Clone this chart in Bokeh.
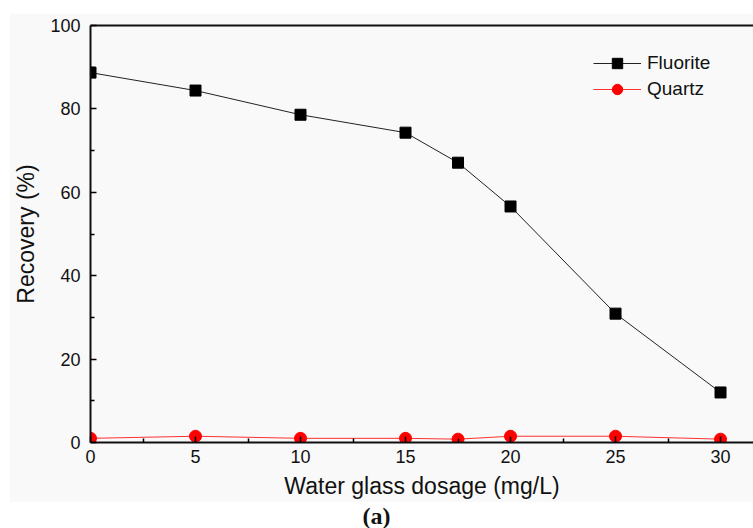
from bokeh.plotting import figure
from bokeh.models import LinearAxis, Range1d, Legend, LegendItem, Div, FixedTicker
from bokeh.layouts import column
from bokeh.embed import file_html
from bokeh.resources import INLINE

dosage = [0, 5, 10, 15, 17.5, 20, 25, 30]
fluorite = [88.7, 84.4, 78.6, 74.3, 67.1, 56.6, 30.9, 12.0]
quartz = [1.0, 1.5, 1.0, 1.0, 0.8, 1.5, 1.5, 0.8]
x_ticks = [0, 5, 10, 15, 20, 25, 30]
y_ticks = [0, 20, 40, 60, 80, 100]

BG = "#f9f9f9"
FONT = "Liberation Sans"

p = figure(width=744, height=489, output_backend="svg", toolbar_location=None,
           x_range=Range1d(0, 31.57), y_range=Range1d(0, 100),
           x_axis_location=None, y_axis_location=None,
           min_border_left=81, min_border_right=0, min_border_top=12, min_border_bottom=60,
           background_fill_color=BG, border_fill_color=BG)
p.margin = (13, 0, 0, 9)
p.outline_line_color = None
p.grid.visible = False

def style(ax):
    ax.axis_line_width = 2
    ax.axis_line_color = "#111111"
    ax.major_tick_in = 6
    ax.major_tick_out = 0
    ax.minor_tick_in = 4
    ax.minor_tick_out = 0
    ax.major_tick_line_width = 1.5
    ax.minor_tick_line_width = 1.5
    ax.major_label_text_font = FONT
    ax.major_label_text_font_size = "18px"
    ax.major_label_text_color = "#111111"
    ax.axis_label_text_font = FONT
    ax.axis_label_text_font_size = "23px"
    ax.axis_label_text_font_style = "normal"
    ax.axis_label_text_color = "#111111"

xa = LinearAxis(axis_label="Water glass dosage (mg/L)",
                ticker=FixedTicker(ticks=x_ticks, minor_ticks=[2.5, 7.5, 12.5, 17.5, 22.5, 27.5]))
style(xa)
xa.major_label_standoff = 7
xa.axis_label_standoff = 7
p.add_layout(xa, "below")

ya = LinearAxis(axis_label="Recovery (%)",
                ticker=FixedTicker(ticks=y_ticks, minor_ticks=[10, 30, 50, 70, 90]))
style(ya)
ya.major_label_standoff = 10
ya.axis_label_standoff = 8
p.add_layout(ya, "left")

top = LinearAxis(ticker=FixedTicker(ticks=[]), major_label_text_font_size="0px")
top.axis_line_width = 2
top.axis_line_color = "#111111"
top.major_tick_line_color = None
top.minor_tick_line_color = None
p.add_layout(top, "above")

fl = p.line(dosage, fluorite, line_color="#222222", line_width=1)
fm = p.scatter(dosage, fluorite, marker="square", size=11, fill_color="black", line_color="black")
ql = p.line(dosage, quartz, line_color="#ff3030", line_width=1)
qm = p.scatter(dosage, quartz, marker="circle", size=12, fill_color="#ff0000", line_color="#ff0000")

legend = Legend(items=[LegendItem(label="Fluorite", renderers=[fl, fm]),
                       LegendItem(label="Quartz", renderers=[ql, qm])],
                location=(503, 340))
legend.background_fill_alpha = 0
legend.border_line_color = None
legend.label_text_font = FONT
legend.label_text_font_size = "19px"
legend.label_text_color = "#111111"
legend.glyph_width = 48
legend.glyph_height = 26
legend.label_standoff = 6
legend.spacing = -5
legend.padding = 2
legend.label_height = 20
p.add_layout(legend)

div = Div(text="(<b>a</b>)", width=753, height=26,
          styles={"text-align": "center", "font-family": "Liberation Serif",
                  "font-size": "24px", "font-weight": "bold", "color": "#111111",
                  "line-height": "1"})
div.margin = (2, 0, 0, 0)

layout = column(p, div, spacing=0)
open("out.html", "w").write(file_html(layout, INLINE))
